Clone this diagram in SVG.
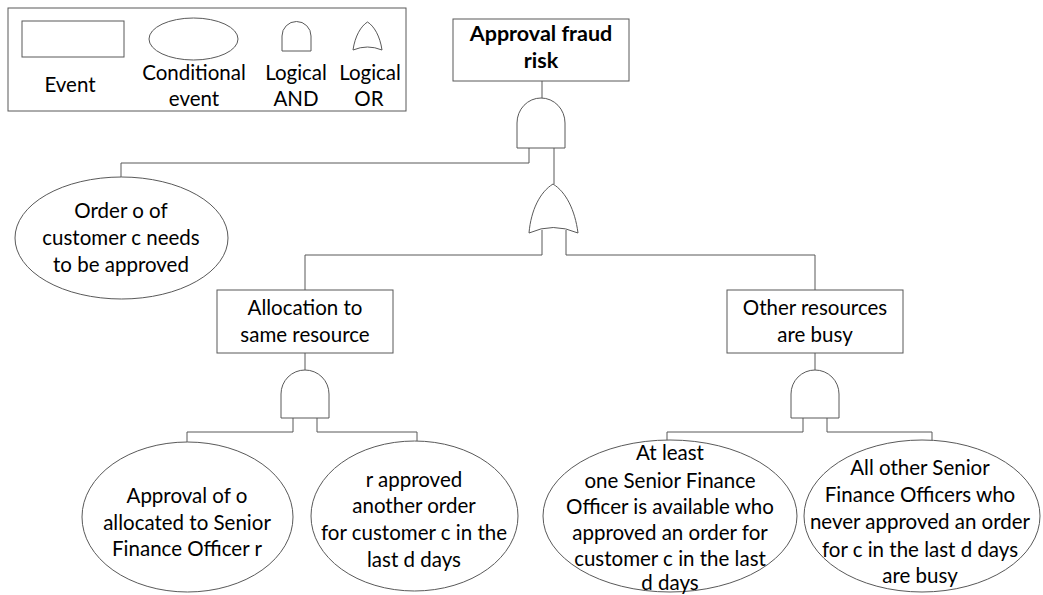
<svg xmlns="http://www.w3.org/2000/svg" width="1043" height="595" viewBox="0 0 1043 595">
  <style>
    .shape { fill: #ffffff; stroke: #595959; stroke-width: 1; }
    .wire { fill: none; stroke: #595959; stroke-width: 1; }
    text { font-family: Lato, "Liberation Sans", sans-serif; font-size: 20.5px; fill: #000000; text-anchor: middle; }
    .bold { font-weight: bold; font-size: 21.5px; }
  </style>
  <rect width="1043" height="595" fill="#ffffff"/>

  <!-- legend -->
  <g id="legend">
    <rect class="shape" x="8" y="8" width="398" height="103"/>
    <rect class="shape" x="22" y="21" width="102" height="36"/>
    <ellipse class="shape" cx="193.5" cy="39" rx="44.5" ry="21"/>
    <path class="shape" d="M282,51 V36 A14.5,14.5 0 0 1 311,36 V51 Z"/>
    <path class="shape" d="M353,50 C355,36 361,26 367.5,22 C374,26 380,36 382,50 Q367.5,44 353,50 Z"/>
    <text x="70" y="92">Event</text>
    <text x="194" y="80">Conditional</text>
    <text x="194" y="106">event</text>
    <text x="296" y="80">Logical</text>
    <text x="296" y="106">AND</text>
    <text x="370" y="80">Logical</text>
    <text x="369" y="106">OR</text>
  </g>

  <!-- connectors -->
  <g id="connectors">
    <path class="wire" d="M542,81 V99"/>
    <path class="wire" d="M529,148 V163 H121 V177"/>
    <path class="wire" d="M554,148 V184"/>
    <path class="wire" d="M542,230 V255 H305 V290"/>
    <path class="wire" d="M566,230 V255 H815 V290"/>
    <path class="wire" d="M305,353 V370"/>
    <path class="wire" d="M293,418 V432 H187 V442"/>
    <path class="wire" d="M317,418 V432 H417 V441"/>
    <path class="wire" d="M815,353 V370"/>
    <path class="wire" d="M803,418 V432 H667 V441"/>
    <path class="wire" d="M827,418 V432 H932 V441"/>
  </g>

  <!-- top event -->
  <g id="approval-fraud-risk">
    <rect class="shape" x="453" y="19" width="176" height="62"/>
    <text class="bold" x="541" y="41">Approval fraud</text>
    <text class="bold" x="541" y="68">risk</text>
  </g>

  <g id="and-top">
    <path class="shape" d="M517,148 V123 A24,25 0 0 1 565,123 V148 Z"/>
  </g>

  <g id="or-top">
    <path class="shape" d="M529,233 C531,210 540,192 553,184 C566,192 575,210 578,233 Q553,222 529,233 Z"/>
  </g>

  <g id="order-needs-approval">
    <ellipse class="shape" cx="121.5" cy="238" rx="106.5" ry="61"/>
    <text x="121" y="218">Order o of</text>
    <text x="121" y="245">customer c needs</text>
    <text x="121" y="272">to be approved</text>
  </g>

  <g id="allocation-same-resource">
    <rect class="shape" x="217" y="290" width="176" height="63"/>
    <text x="305" y="315">Allocation to</text>
    <text x="305" y="342">same resource</text>
  </g>

  <g id="other-resources-busy">
    <rect class="shape" x="727" y="290" width="176" height="63"/>
    <text x="815" y="315">Other resources</text>
    <text x="815" y="342">are busy</text>
  </g>

  <g id="and-left">
    <path class="shape" d="M281,418 V394 A24,24 0 0 1 329,394 V418 Z"/>
  </g>

  <g id="and-right">
    <path class="shape" d="M791,418 V394 A24,24 0 0 1 839,394 V418 Z"/>
  </g>

  <g id="approval-allocated">
    <ellipse class="shape" cx="187.5" cy="517" rx="105.5" ry="75"/>
    <text x="187" y="503">Approval of o</text>
    <text x="187" y="530">allocated to Senior</text>
    <text x="187" y="556">Finance Officer r</text>
  </g>

  <g id="r-approved-another">
    <ellipse class="shape" cx="414.5" cy="516" rx="103.5" ry="75"/>
    <text x="414" y="487">r approved</text>
    <text x="414" y="513">another order</text>
    <text x="414" y="540">for customer c in the</text>
    <text x="414" y="567">last d days</text>
  </g>

  <g id="officer-available">
    <ellipse class="shape" cx="670" cy="516" rx="127" ry="76"/>
    <text x="670" y="460">At least</text>
    <text x="670" y="488">one Senior Finance</text>
    <text x="670" y="514">Officer is available who</text>
    <text x="670" y="540">approved an order for</text>
    <text x="670" y="566">customer c in the last</text>
    <text x="670" y="590">d days</text>
  </g>

  <g id="others-busy">
    <ellipse class="shape" cx="922" cy="516" rx="118" ry="76"/>
    <text x="920" y="475">All other Senior</text>
    <text x="920" y="502">Finance Officers who</text>
    <text x="920" y="529">never approved an order</text>
    <text x="920" y="557">for c in the last d days</text>
    <text x="920" y="583">are busy</text>
  </g>
</svg>
